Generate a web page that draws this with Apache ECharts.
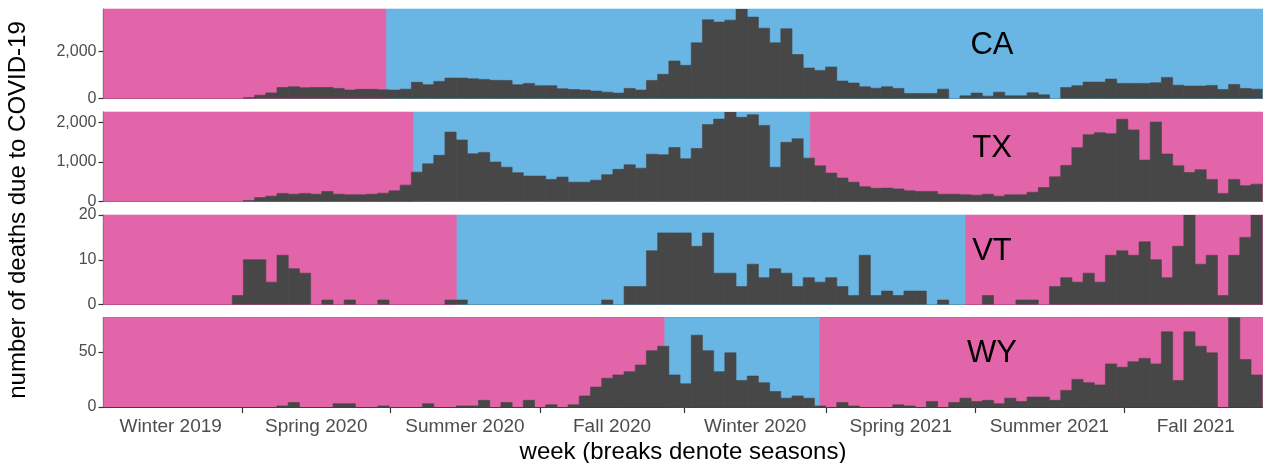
<!DOCTYPE html>
<html>
<head>
<meta charset="utf-8">
<script src="https://cdn.jsdelivr.net/npm/echarts@6/dist/echarts.min.js"></script>
<style>
  html, body { margin: 0; padding: 0; background: #ffffff; }
  #chart { width: 1263px; height: 463px; }
</style>
</head>
<body>
<div id="chart"></div>
<script>
// Weekly COVID-19 deaths by state; weeks are consecutive, starting at firstWeek.
const firstWeek = '2019-12-24';
const axisEnd = '2021-12-18';
const states = ['CA', 'TX', 'VT', 'WY'];

const caDeaths = [0,0,0,0,0,0,0,0,0,0,0,0,0,
  40,140,240,470,500,460,470,470,430,360,
  390,390,370,360,400,690,590,730,870,870,
  840,815,775,770,590,645,545,545,415,385,
  360,315,270,230,430,360,770,1030,1600,1415,
  2375,3360,3260,3345,3820,3475,3000,2375,2975,1875,
  1300,1200,1345,745,660,500,440,500,430,215,
  215,215,400,0,115,230,100,270,115,115,
  245,155,0,470,545,700,700,830,645,645,
  645,670,900,570,530,530,560,385,600,430,
  400];

const txDeaths = [0,0,0,0,0,0,0,0,0,0,0,0,0,
  25,100,135,205,185,205,185,255,185,170,
  170,185,210,270,415,745,955,1170,1760,1560,
  1210,1245,1000,870,730,645,645,560,620,490,
  490,540,680,815,930,845,1200,1185,1370,1085,
  1345,1950,2090,2270,2135,2200,1930,870,1500,1590,
  1100,905,720,595,490,375,335,340,320,270,
  255,255,185,185,170,160,185,135,170,170,
  235,355,625,915,1365,1695,1745,1720,2085,1815,
  1050,2015,1205,905,735,805,560,205,560,400,
  440];

const vtDeaths = [0,0,0,0,0,0,0,0,0,0,0,0,2,
  10,10,5,11,8,7,0,1,0,1,
  0,0,1,0,0,0,0,0,1,1,
  0,0,0,0,0,0,0,0,0,0,
  0,0,1,0,4,4,12,16,16,16,
  13,16,7,7,4,9,6,8,7,4,
  6,5,6,4,2,11,2,3,2,3,
  3,0,1,0,0,0,2,0,0,1,
  1,0,4,6,5,7,5,11,12,11,
  14,10,6,13,20,9,11,2,11,15,
  20];

const wyDeaths = [0,0,0,0,0,0,0,0,0,0,0,0,0,
  0,0,0,1,4,0,0,0,3,3,
  0,0,1,0,0,0,3,0,0,1,
  1,6,0,4,0,6,0,2,0,2,
  10,18,26,29,32,38,51,55,29,21,
  65,51,32,49,24,28,22,14,8,10,
  8,1,0,4,1,0,0,0,2,1,
  0,5,0,4,8,5,6,3,8,5,
  9,9,6,15,25,22,20,39,36,41,
  44,39,68,24,68,55,49,0,81,43,
  29];

// Mask mandate periods (null end = still in force at the end of the range)
const mandateStart = ['2020-06-18', '2020-07-05', '2020-08-01', '2020-12-09'];
const mandateEnd = [null, '2021-03-10', '2021-06-15', '2021-03-16'];

// y-axis tick labels per panel
const caTicks = [0, 2000];
const txTicks = [0, 1000, 2000];
const vtTicks = [0, 10, 20];
const wyTicks = [0, 50];

// Season breaks and names
const seasonStart = '2019-12-21';
const seasonBreaks = ['2020-03-20', '2020-06-20', '2020-09-22', '2020-12-21',
                      '2021-03-20', '2021-06-21', '2021-09-22'];
const seasonFinish = '2021-12-21';
const seasonNames = ['Winter 2019', 'Spring 2020', 'Summer 2020', 'Fall 2020',
                     'Winter 2020', 'Spring 2021', 'Summer 2021', 'Fall 2021'];

const deaths = [caDeaths, txDeaths, vtDeaths, wyDeaths];
const yTicks = [caTicks, txTicks, vtTicks, wyTicks];

const PINK = '#E264A9';
const BLUE = '#69B5E4';
const BAR = '#474747';
const FONT = '"Liberation Sans", Arial, Helvetica, sans-serif';

function day(s) {
  const [y, m, d] = s.split('-').map(Number);
  const [y0, m0, d0] = firstWeek.split('-').map(Number);
  return (Date.UTC(y, m - 1, d) - Date.UTC(y0, m0 - 1, d0)) / 86400000;
}

const xMin = 0;
const xMax = day(axisEnd);
const breakDays = seasonBreaks.map(day);
const edges = [day(seasonStart)].concat(breakDays, [day(seasonFinish)]);
const labelDays = seasonNames.map((_, i) => (edges[i] + edges[i + 1]) / 2);

function seasonLabel(v) {
  let best = 0;
  labelDays.forEach((d, i) => { if (Math.abs(d - v) < Math.abs(labelDays[best] - v)) best = i; });
  return seasonNames[best];
}

const panelTop = [9, 112, 215, 317.5];
const panelHeight = 89.5;

const grids = [], xAxes = [], yAxes = [], series = [], graphics = [];

states.forEach((st, i) => {
  const isLast = i === states.length - 1;
  grids.push({ left: 103.5, right: 0, top: panelTop[i], height: panelHeight });

  // bottom axis (week)
  xAxes.push({
    type: 'value', gridIndex: i, min: xMin, max: xMax, position: 'bottom',
    axisLine: { show: true, lineStyle: { color: '#1a1a1a', width: 1.2 } },
    splitLine: { show: false },
    axisTick: { show: isLast, length: 6, lineStyle: { color: '#333333', width: 1.2 },
                customValues: breakDays },
    axisLabel: { show: isLast, customValues: labelDays, formatter: seasonLabel,
                 fontFamily: FONT, fontSize: 19, color: '#4D4D4D', margin: 10 }
  });
  // thin top edge of the panel
  xAxes.push({
    type: 'value', gridIndex: i, min: xMin, max: xMax, position: 'top',
    axisLine: { show: true, lineStyle: { color: '#666666', width: 1 } },
    axisTick: { show: false }, axisLabel: { show: false }, splitLine: { show: false }
  });

  const vals = deaths[i];
  const yMax = Math.max(...vals);
  yAxes.push({
    type: 'value', gridIndex: i, min: 0, max: yMax,
    axisLine: { show: true, lineStyle: { color: '#1a1a1a', width: 1.2 } },
    splitLine: { show: false },
    axisTick: { show: true, length: 5, lineStyle: { color: '#333333', width: 1.2 },
                customValues: yTicks[i] },
    axisLabel: { customValues: yTicks[i], fontFamily: FONT, fontSize: 16, color: '#4D4D4D',
                 margin: 7, formatter: v => Number(v).toLocaleString('en-US') }
  });

  // background bands: mandate in force (blue) or not (pink)
  const s = day(mandateStart[i]);
  const e = mandateEnd[i] ? day(mandateEnd[i]) : xMax;
  const bands = [[xMin, s, 0], [s, e, 1]];
  if (e < xMax) bands.push([e, xMax, 0]);

  series.push({
    type: 'custom', xAxisIndex: 2 * i, yAxisIndex: i, z: 1, silent: true,
    data: bands, encode: { x: [0, 1] },
    renderItem: (params, api) => {
      const cs = params.coordSys;
      const x0 = api.coord([api.value(0), 0])[0];
      const x1 = api.coord([api.value(1), 0])[0];
      const c = api.value(2) ? BLUE : PINK;
      return { type: 'rect',
               shape: { x: x0, y: cs.y, width: x1 - x0, height: cs.height },
               style: { fill: c, stroke: c, lineWidth: 0.6 } };
    }
  });

  // weekly bars
  series.push({
    type: 'custom', xAxisIndex: 2 * i, yAxisIndex: i, z: 2, clip: true, silent: true,
    data: vals.map((v, k) => [7 * k, v]), encode: { x: 0, y: 1 },
    renderItem: (params, api) => {
      const w = api.value(0), v = api.value(1);
      if (!v) return null;
      const a = api.coord([w - 3.5, v]);
      const b = api.coord([w + 3.5, 0]);
      return { type: 'rect',
               shape: { x: a[0], y: a[1], width: b[0] - a[0], height: b[1] - a[1] },
               style: { fill: BAR, stroke: BAR, lineWidth: 0.6 } };
    }
  });

  graphics.push({
    type: 'text', x: 992, y: panelTop[i] + 36, z: 10,
    style: { text: st, fontFamily: FONT, fontSize: 31, fill: '#000000',
             textAlign: 'center', textVerticalAlign: 'middle' }
  });
});

graphics.push({
  type: 'text', x: 18, y: 210, rotation: Math.PI / 2, z: 10,
  style: { text: 'number of deaths due to COVID-19', fontFamily: FONT, fontSize: 24,
           fill: '#000000', textAlign: 'center', textVerticalAlign: 'middle' }
});
graphics.push({
  type: 'text', x: 683, y: 452, z: 10,
  style: { text: 'week (breaks denote seasons)', fontFamily: FONT, fontSize: 24,
           fill: '#000000', textAlign: 'center', textVerticalAlign: 'middle' }
});

const chart = echarts.init(document.getElementById('chart'), null, { renderer: 'canvas' });
chart.setOption({
  animation: false,
  backgroundColor: '#ffffff',
  grid: grids,
  xAxis: xAxes,
  yAxis: yAxes,
  series: series,
  graphic: graphics
});
</script>
</body>
</html>
